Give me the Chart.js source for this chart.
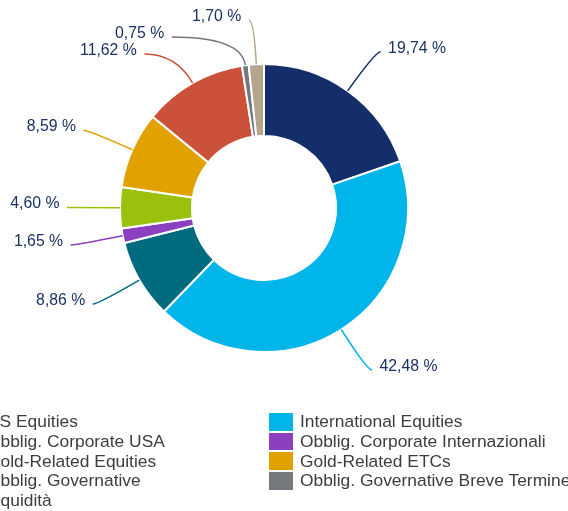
<!DOCTYPE html>
<html>
<head>
<meta charset="utf-8">
<script src="https://cdn.jsdelivr.net/npm/chart.js@4.4.0/dist/chart.umd.min.js"></script>
<style>
  html, body { margin: 0; padding: 0; background: #fff; overflow: hidden; }
  #wrap { position: relative; width: 568px; height: 511px; overflow: hidden; }
  #pie { position: absolute; left: 0; top: 0; }
  #legend {
    position: absolute; left: -44px; top: 413px; width: 626px;
    display: grid; grid-template-columns: 313px 313px; row-gap: 2.1px;
    font-family: "Liberation Sans", Arial, sans-serif; font-size: 17.4px; color: #3d3d3d;
  }
  .item { display: flex; align-items: center; height: 17.6px; white-space: nowrap; }
  .sw { width: 24px; height: 17.6px; margin-right: 7px; flex: none; }
</style>
</head>
<body>
<div id="wrap">
  <canvas id="pie" width="568" height="511"></canvas>
  <div id="legend"></div>
</div>
<script>
const categories = [
    'US Equities',
    'International Equities',
    'Obblig. Corporate USA',
    'Obblig. Corporate Internazionali',
    'Gold-Related Equities',
    'Gold-Related ETCs',
    'Obblig. Governative',
    'Obblig. Governative Breve Termine',
    'Liquidità'
];
const shares = [19.74, 42.48, 8.86, 1.65, 4.60, 8.59, 11.62, 0.75, 1.70];
const colors = ['#132e69', '#00b5ea', '#006a7f', '#8b40c0', '#9bc00e', '#e1a200', '#cb513a', '#75787c', '#b5a58c'];

// legend (two columns, row by row)
const legend = document.getElementById('legend');
categories.forEach((name, i) => {
    const item = document.createElement('div');
    item.className = 'item';
    item.innerHTML = '<span class="sw" style="background:' + colors[i] + '"></span><span>' + name + '</span>';
    legend.appendChild(item);
});

const fmt = v => v.toFixed(2).replace('.', ',') + ' %';

// percentage labels with curved leader lines
const leaderLabels = {
    id: 'leaderLabels',
    afterDatasetsDraw(chart) {
        const ctx = chart.ctx;
        const arcs = chart.getDatasetMeta(0).data;
        const GAP = 17, TOP = 20;

        const items = arcs.map((arc, i) => {
            const mid = (arc.startAngle + arc.endAngle) / 2;
            const R = arc.outerRadius;
            const rl = R + 48;
            return {
                i, mid, R, rl, cx: arc.x, cy: arc.y,
                right: Math.cos(mid) >= 0,
                nx: arc.x + rl * Math.cos(mid),
                ny: arc.y + rl * Math.sin(mid)
            };
        });

        [false, true].forEach(side => {
            let prev = -Infinity;
            items.filter(l => l.right === side)
                .sort((a, b) => a.ny - b.ny)
                .forEach(l => {
                    const y = Math.max(l.ny, prev + GAP);
                    if (y > l.ny) {
                        const dx = Math.sqrt(Math.max(l.rl * l.rl - (y - l.cy) ** 2, 0));
                        l.x = l.right ? l.cx + dx : l.cx - dx;
                    } else {
                        l.x = l.nx;
                    }
                    l.y = Math.max(y, TOP);
                    prev = l.y;
                });
        });

        ctx.save();
        ctx.font = '15.8px "Liberation Sans", Arial, sans-serif';
        ctx.textBaseline = 'middle';
        items.forEach(l => {
            const c = Math.cos(l.mid), s = Math.sin(l.mid);
            const dir = l.right ? 1 : -1;
            // control point: where the radial line meets the label's horizontal
            let rc = Math.abs(s) > 0.05 ? (l.y - l.cy) / s : (l.R + l.rl) / 2;
            rc = Math.min(Math.max(rc, l.R + 4), l.rl);
            const ex = l.x + dir * 5;
            ctx.beginPath();
            ctx.moveTo(l.cx + l.R * c, l.cy + l.R * s);
            ctx.quadraticCurveTo(l.cx + rc * c, l.cy + rc * s, ex, l.y);
            ctx.strokeStyle = colors[l.i];
            ctx.lineWidth = 1.5;
            ctx.stroke();

            ctx.fillStyle = '#1c3263';
            ctx.textAlign = l.right ? 'left' : 'right';
            ctx.fillText(fmt(shares[l.i]), ex + dir * 7.5, l.y - 3.5);
        });
        ctx.restore();
    }
};

new Chart(document.getElementById('pie'), {
    type: 'doughnut',
    data: {
        labels: categories,
        datasets: [{
            data: shares,
            backgroundColor: colors,
            borderColor: '#ffffff',
            borderWidth: 2,
            radius: 144
        }]
    },
    options: {
        responsive: false,
        animation: false,
        cutout: '50%',
        layout: { padding: { left: 100, right: 140, top: 20, bottom: 115 } },
        plugins: {
            legend: { display: false },
            tooltip: { enabled: false }
        }
    },
    plugins: [leaderLabels]
});
</script>
</body>
</html>
